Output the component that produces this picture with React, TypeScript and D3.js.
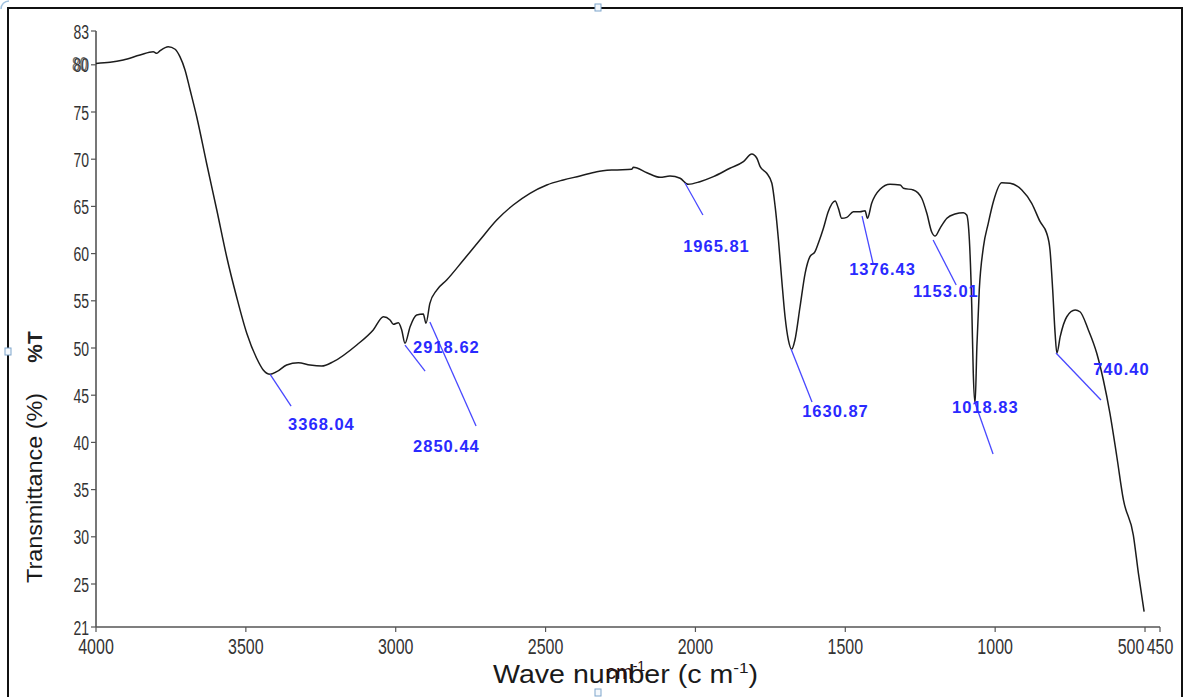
import React, { useEffect, useRef } from 'react';
import * as d3 from 'd3';

// FTIR spectrum
const wavenumbers = [
  4000, 3953, 3909, 3853, 3809, 3797, 3786, 3759, 3736, 3720, 3703, 3686, 3664, 3631, 3597, 3564,
  3531, 3497, 3464, 3442, 3419, 3397, 3364, 3325, 3286, 3247, 3208, 3130, 3075, 3041, 3019, 3008,
  2991, 2980, 2969, 2952, 2930, 2908, 2899, 2886, 2863, 2830, 2774, 2719, 2663, 2608, 2552, 2496,
  2441, 2385, 2329, 2274, 2213, 2207, 2162, 2118, 2085, 2051, 2024, 1985, 1940, 1885, 1840, 1812,
  1795, 1784, 1762, 1745, 1734, 1723, 1712, 1701, 1690, 1679, 1668, 1651, 1634, 1618, 1601, 1590,
  1573, 1557, 1534, 1523, 1512, 1495, 1473, 1451, 1434, 1426, 1412, 1384, 1351, 1317, 1306, 1273,
  1245, 1228, 1212, 1200, 1184, 1161, 1134, 1106, 1095, 1086, 1078, 1073, 1067, 1061, 1053, 1039,
  1023, 1006, 978, 950, 911, 878, 850, 828, 817, 808, 800, 794, 783, 761, 733, 717, 689, 661, 639,
  617, 594, 572, 539, 522, 503,
];
const transmittance = [
  80.12, 80.22, 80.43, 80.87, 81.16, 81.02, 81.25, 81.61, 81.38, 80.72, 79.45, 77.33, 74.5, 69.57,
  64.62, 59.67, 55.43, 51.56, 48.91, 47.67, 47.21, 47.49, 48.2, 48.44, 48.2, 48.09, 48.55, 50.32,
  51.91, 53.31, 52.97, 52.51, 52.68, 51.91, 50.5, 52.26, 53.5, 53.6, 52.62, 54.73, 56.14, 57.2,
  59.32, 61.44, 63.56, 65.15, 66.39, 67.27, 67.8, 68.22, 68.68, 68.86, 68.93, 69.14, 68.57, 68.08,
  68.22, 67.98, 67.34, 67.62, 68.15, 69.04, 69.74, 70.55, 70.1, 69.21, 68.51, 67.45, 64.97, 61.44,
  57.2, 53.31, 50.85, 49.86, 50.85, 54.37, 57.91, 59.67, 60.2, 61.09, 62.68, 64.43, 65.57, 64.79,
  63.74, 63.84, 64.43, 64.43, 64.54, 63.74, 65.33, 66.81, 67.34, 67.27, 66.92, 66.74, 65.86, 64.27,
  62.32, 61.86, 62.68, 63.74, 64.19, 64.33, 64.09, 61.44, 54.37, 47.32, 44.14, 50.14, 56.14, 60.73,
  63.21, 65.5, 67.51, 67.45, 66.74, 65.33, 63.38, 62.15, 60.38, 56.14, 51.56, 49.44, 51.2, 53.31,
  54.02, 53.84, 51.91, 49.44, 46.61, 43.08, 38.48, 33.9, 30.19, 26.13, 22.42,
];

const xTicks = [4000, 3500, 3000, 2500, 2000, 1500, 1000, 500, 450];
const yTicks = [21, 25, 30, 35, 40, 45, 50, 55, 60, 65, 70, 75, 80, 83];

// peak annotations: label, leader start (on curve), leader end, label anchor (wavenumber, %T)
const peakLabels = ['3368.04', '2918.62', '2850.44', '1965.81', '1376.43', '1153.01', '1630.87', '1018.83', '740.40'];
const peakFrom = [[3419, 47.2], [2969, 50.3], [2886, 52.75], [2035, 67.48], [1444, 63.98], [1207, 61.44], [1681, 49.89], [1067, 44.17], [797, 49.47]];
const peakTo = [[3349, 43.85], [2902, 47.56], [2732, 41.74], [1975, 64.09], [1407, 58.9], [1130, 56.67], [1611, 44.28], [1007, 38.77], [647, 44.49]];
const labelAt = [[3359, 41.31], [2942, 49.47], [2942, 38.98], [2041, 60.17], [1487, 57.73], [1274, 55.4], [1644, 42.69], [1144, 43.11], [673, 47.14]];

const FONT = '"Liberation Sans", Arial, sans-serif';

const App = () => {
  const ref = useRef<SVGSVGElement | null>(null);

  useEffect(() => {
    const svg = d3.select(ref.current);
    svg.selectAll('*').remove();

    const x = d3.scaleLinear().domain([4000, 450]).range([96, 1160]);
    // the axis end labels (21, 83) sit at the axis ends, so the scale is piecewise
    const y = d3.scaleLinear().domain([21, 25, 80, 83]).range([627, 584, 64.8, 31]);

    // outer frame and selection handles
    svg.append('rect')
      .attr('x', 8).attr('y', 8).attr('width', 1174).attr('height', 700)
      .attr('fill', 'none').attr('stroke', '#111').attr('stroke-width', 2);
    const handles = [[598, 8], [8, 352], [598, 693]];
    svg.selectAll('.handle')
      .data(handles)
      .enter()
      .append('rect')
      .attr('class', 'handle')
      .attr('x', d => d[0] - 3).attr('y', d => d[1] - 4)
      .attr('width', 6).attr('height', 7)
      .attr('fill', '#f4f8fc').attr('stroke', '#7fa6cc').attr('stroke-width', 1);
    svg.append('path')
      .attr('d', 'M1,9 A8,8 0 0 1 9,1')
      .attr('fill', 'none').attr('stroke', '#9fc0dd').attr('stroke-width', 1.5);

    // axes
    const axisColor = '#555';
    svg.append('line')
      .attr('x1', 96).attr('x2', 96).attr('y1', y(83)).attr('y2', y(21))
      .attr('stroke', axisColor).attr('stroke-width', 1.6);
    svg.append('line')
      .attr('x1', x(4000)).attr('x2', x(450)).attr('y1', y(21)).attr('y2', y(21))
      .attr('stroke', axisColor).attr('stroke-width', 1.6);

    const yt = svg.append('g');
    yt.selectAll('line')
      .data(yTicks)
      .enter()
      .append('line')
      .attr('x1', 91).attr('x2', 96)
      .attr('y1', d => y(d)).attr('y2', d => y(d))
      .attr('stroke', axisColor).attr('stroke-width', 1.2);
    yt.selectAll('text')
      .data(yTicks)
      .enter()
      .append('text')
      .attr('transform', d => `translate(89, ${y(d)}) scale(1, 1.5)`)
      .attr('dy', '0.36em')
      .attr('text-anchor', 'end')
      .attr('font-family', FONT)
      .attr('font-size', 14)
      .attr('fill', '#333')
      .text(d => d);
    // doubled "80" as printed in the reference
    svg.append('text')
      .attr('transform', `translate(87.5, ${y(80) - 1.5}) scale(1, 1.5)`)
      .attr('dy', '0.36em')
      .attr('text-anchor', 'end')
      .attr('font-family', FONT)
      .attr('font-size', 14)
      .attr('fill', '#444')
      .attr('opacity', 0.8)
      .text('80');

    const xt = svg.append('g');
    xt.selectAll('line')
      .data(xTicks)
      .enter()
      .append('line')
      .attr('x1', d => x(d)).attr('x2', d => x(d))
      .attr('y1', y(21)).attr('y2', y(21) + 5)
      .attr('stroke', axisColor).attr('stroke-width', 1.2);
    xt.selectAll('text')
      .data(xTicks)
      .enter()
      .append('text')
      .attr('transform', d => `translate(${x(d) + (d === 500 ? -14 : 0)}, 654) scale(1, 1.4)`)
      .attr('text-anchor', 'middle')
      .attr('font-family', FONT)
      .attr('font-size', 16)
      .attr('fill', '#333')
      .text(d => d);

    // axis titles
    const xTitle = svg.append('text')
      .attr('x', 493).attr('y', 683)
      .attr('textLength', 265)
      .attr('lengthAdjust', 'spacingAndGlyphs')
      .attr('font-family', FONT)
      .attr('font-size', 25)
      .attr('fill', '#1a1a1a');
    xTitle.append('tspan').text('Wave number (c m');
    xTitle.append('tspan').attr('font-size', 15).attr('dy', -10).text('-1');
    xTitle.append('tspan').attr('dy', 10).text(')');

    const cm = svg.append('text')
      .attr('x', 606).attr('y', 679)
      .attr('font-family', FONT)
      .attr('font-size', 20)
      .attr('fill', '#2a0c0c');
    cm.append('tspan').text('cm');
    cm.append('tspan').attr('font-size', 14).attr('dy', -8).text('-1');

    svg.append('text')
      .attr('transform', 'translate(42, 488) rotate(-90)')
      .attr('text-anchor', 'middle')
      .attr('textLength', 190)
      .attr('lengthAdjust', 'spacingAndGlyphs')
      .attr('font-family', FONT)
      .attr('font-size', 22)
      .attr('fill', '#1a1a1a')
      .text('Transmittance (%)');
    svg.append('text')
      .attr('transform', 'translate(42, 347) rotate(-90)')
      .attr('text-anchor', 'middle')
      .attr('font-family', FONT)
      .attr('font-size', 21)
      .attr('font-weight', 'bold')
      .attr('fill', '#222')
      .text('%T');

    // spectrum
    const line = d3.line<number>()
      .x((_, i) => x(wavenumbers[i]))
      .y(d => y(d))
      .curve(d3.curveMonotoneX);
    svg.append('path')
      .attr('d', line(transmittance))
      .attr('fill', 'none')
      .attr('stroke', '#1c1c1c')
      .attr('stroke-width', 1.5)
      .attr('stroke-linejoin', 'round');

    // peak annotations
    const ann = svg.append('g');
    ann.selectAll('line')
      .data(peakLabels)
      .enter()
      .append('line')
      .attr('x1', (_, i) => x(peakFrom[i][0])).attr('y1', (_, i) => y(peakFrom[i][1]))
      .attr('x2', (_, i) => x(peakTo[i][0])).attr('y2', (_, i) => y(peakTo[i][1]))
      .attr('stroke', '#4848ff')
      .attr('stroke-width', 1.3);
    ann.selectAll('text')
      .data(peakLabels)
      .enter()
      .append('text')
      .attr('x', (_, i) => x(labelAt[i][0]))
      .attr('y', (_, i) => y(labelAt[i][1]))
      .attr('font-family', FONT)
      .attr('font-weight', 'bold')
      .attr('font-size', 16.5)
      .attr('letter-spacing', 1)
      .attr('fill', '#2a2aff')
      .text(d => d);
  }, []);

  return (
    <svg
      ref={ref}
      width={1184}
      height={697}
      style={{ position: 'absolute', left: 0, top: 0, background: '#fff' }}
    />
  );
};

export default App;
